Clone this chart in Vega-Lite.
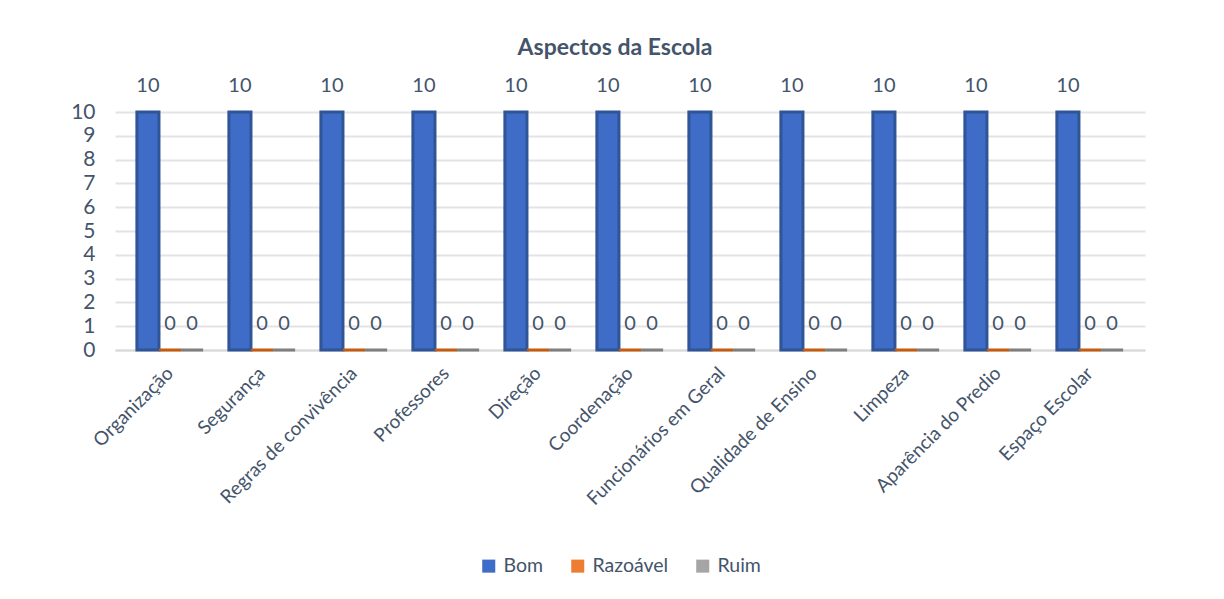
{
  "$schema": "https://vega.github.io/schema/vega-lite/v6.json",
  "width": 1030,
  "height": 238,
  "autosize": {"type": "none"},
  "padding": {"left": 115, "top": 112, "right": 79, "bottom": 249},
  "background": "white",
  "title": {"text": "Aspectos da Escola", "fontSize": 23, "font": "Lato", "fontWeight": "bold", "color": "#44546A", "offset": 16, "anchor": "middle", "dx": -15},
  "config": {"view": {"stroke": null}, "font": "Lato"},
  "data": {"values": [
    {"aspecto": "Organização", "serie": "Bom", "valor": 10},
    {"aspecto": "Organização", "serie": "Razoável", "valor": 0},
    {"aspecto": "Organização", "serie": "Ruim", "valor": 0},
    {"aspecto": "Segurança", "serie": "Bom", "valor": 10},
    {"aspecto": "Segurança", "serie": "Razoável", "valor": 0},
    {"aspecto": "Segurança", "serie": "Ruim", "valor": 0},
    {"aspecto": "Regras de convivência", "serie": "Bom", "valor": 10},
    {"aspecto": "Regras de convivência", "serie": "Razoável", "valor": 0},
    {"aspecto": "Regras de convivência", "serie": "Ruim", "valor": 0},
    {"aspecto": "Professores", "serie": "Bom", "valor": 10},
    {"aspecto": "Professores", "serie": "Razoável", "valor": 0},
    {"aspecto": "Professores", "serie": "Ruim", "valor": 0},
    {"aspecto": "Direção", "serie": "Bom", "valor": 10},
    {"aspecto": "Direção", "serie": "Razoável", "valor": 0},
    {"aspecto": "Direção", "serie": "Ruim", "valor": 0},
    {"aspecto": "Coordenação", "serie": "Bom", "valor": 10},
    {"aspecto": "Coordenação", "serie": "Razoável", "valor": 0},
    {"aspecto": "Coordenação", "serie": "Ruim", "valor": 0},
    {"aspecto": "Funcionários em Geral", "serie": "Bom", "valor": 10},
    {"aspecto": "Funcionários em Geral", "serie": "Razoável", "valor": 0},
    {"aspecto": "Funcionários em Geral", "serie": "Ruim", "valor": 0},
    {"aspecto": "Qualidade de Ensino", "serie": "Bom", "valor": 10},
    {"aspecto": "Qualidade de Ensino", "serie": "Razoável", "valor": 0},
    {"aspecto": "Qualidade de Ensino", "serie": "Ruim", "valor": 0},
    {"aspecto": "Limpeza", "serie": "Bom", "valor": 10},
    {"aspecto": "Limpeza", "serie": "Razoável", "valor": 0},
    {"aspecto": "Limpeza", "serie": "Ruim", "valor": 0},
    {"aspecto": "Aparência do Predio", "serie": "Bom", "valor": 10},
    {"aspecto": "Aparência do Predio", "serie": "Razoável", "valor": 0},
    {"aspecto": "Aparência do Predio", "serie": "Ruim", "valor": 0},
    {"aspecto": "Espaço Escolar", "serie": "Bom", "valor": 10},
    {"aspecto": "Espaço Escolar", "serie": "Razoável", "valor": 0},
    {"aspecto": "Espaço Escolar", "serie": "Ruim", "valor": 0}
  ]},
  "encoding": {
    "x": {"field": "aspecto", "type": "nominal", "sort": null,
      "scale": {"paddingInner": 0.28, "paddingOuter": 0.238},
      "axis": {"title": null, "labelAngle": -45, "labelAlign": "right", "labelBaseline": "middle", "labelFontSize": 19, "labelColor": "#44546A", "labelPadding": 20, "ticks": false, "domainColor": "#D9D9D9", "domainWidth": 2, "labelLimit": 300}},
    "y": {"field": "valor", "type": "quantitative",
      "scale": {"domain": [0, 10]},
      "axis": {"title": null, "values": [0,1,2,3,4,5,6,7,8,9,10], "labelFontSize": 21, "labelColor": "#44546A", "labelPadding": 20, "ticks": false, "domain": false, "gridColor": "#E3E3E3", "gridWidth": 2}},
    "xOffset": {"field": "serie", "type": "nominal", "sort": ["Bom", "Razoável", "Ruim"]}
  },
  "layer": [
    {
      "mark": {"type": "bar", "strokeWidth": 3},
      "encoding": {
        "color": {"field": "serie", "type": "nominal", "sort": ["Bom", "Razoável", "Ruim"],
          "scale": {"domain": ["Bom", "Razoável", "Ruim"], "range": ["#3F6CC6", "#ED7D31", "#A5A5A5"]},
          "legend": {"title": null, "orient": "none", "legendX": 364, "legendY": 444, "direction": "horizontal", "labelFontSize": 19.5, "labelColor": "#44546A", "symbolType": "square", "symbolSize": 170, "symbolStrokeWidth": 0, "columnPadding": 24, "labelOffset": 5}},
        "stroke": {"field": "serie", "type": "nominal",
          "scale": {"domain": ["Bom", "Razoável", "Ruim"], "range": ["#2F5597", "#C55A11", "#7F7F7F"]},
          "legend": null}
      }
    },
    {
      "mark": {"type": "text", "dy": -16, "fontSize": 20, "color": "#44546A", "baseline": "bottom"},
      "encoding": {"text": {"field": "valor", "type": "quantitative"}}
    }
  ]
}
